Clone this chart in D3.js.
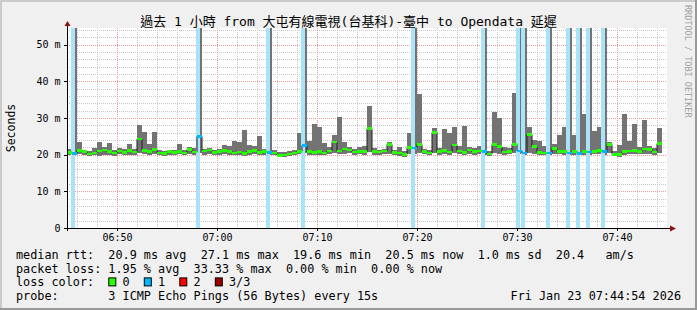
<!DOCTYPE html>
<html>
<head>
<meta charset="utf-8">
<script src="https://cdn.jsdelivr.net/npm/d3@7/dist/d3.min.js"></script>
<style>
  body { margin: 0; background: #f0f0f0; }
  svg text { font-family: "DejaVu Sans Mono", "Noto Sans CJK TC", monospace; white-space: pre; }
</style>
</head>
<body>
<svg id="chart" width="697" height="310"></svg>
<script>
// *************** DATA ***************
// one value per 30 s step, starting 06:45:00
const median = [
  20.6, 20.3, 21.2, 20.8, 20.2, 20.5, 21.0, 21.3, 20.8, 20.4,
  21.0, 20.6, 21.1, 20.7, 24.3, 21.2, 20.9, 21.4, 20.5, 20.3,
  20.8, 20.6, 20.9, 20.5, 21.4, 20.7, 25.0, 21.0, 21.3, 20.6,
  20.8, 21.2, 20.9, 20.4, 20.7, 20.3, 20.9, 21.2, 20.6, 20.8,
  20.6, 20.5, 19.8, 19.9, 20.2, 20.5, 20.9, 22.5, 20.8, 20.6,
  20.9, 20.5, 21.0, 23.5, 21.0, 21.5, 21.3, 20.7, 20.9, 20.8,
  27.1, 20.9, 20.7, 21.0, 22.8, 20.6, 20.4, 20.1, 21.9, 21.8,
  22.8, 20.9, 20.5, 26.0, 20.8, 21.1, 20.7, 22.6, 21.0, 20.6,
  21.3, 20.8, 21.0, 20.8, 20.2, 22.8, 22.2, 20.7, 20.9, 22.8,
  21.0, 20.4, 25.5, 22.2, 20.6, 20.5, 20.4, 21.7, 20.9, 20.8,
  20.4, 20.9, 20.3, 20.8, 20.7, 20.9, 21.1, 20.8, 22.8, 20.1,
  20.0, 20.8, 21.0, 21.2, 20.9, 21.5, 21.4, 20.7, 23.0
];

const smokeHi = [
  21.5, 60.0, 23.4, 21.4, 21.0, 21.8, 23.4, 22.0, 23.3, 21.2,
  21.9, 21.5, 22.9, 21.5, 28.1, 26.3, 23.0, 26.3, 21.3, 21.0,
  21.4, 21.3, 22.8, 21.2, 22.0, 21.8, 60.0, 21.6, 21.9, 21.2,
  21.5, 22.7, 22.5, 23.8, 23.5, 26.6, 22.6, 22.3, 25.0, 21.6,
  60.0, 21.2, 20.8, 20.6, 21.0, 21.2, 25.8, 60.0, 23.6, 28.5,
  27.6, 23.3, 22.0, 25.3, 30.4, 23.5, 22.2, 21.5, 22.0, 22.5,
  33.2, 21.8, 21.4, 21.6, 23.5, 21.3, 22.0, 20.9, 26.0, 60.0,
  36.5, 21.6, 21.3, 27.3, 21.7, 26.9, 25.8, 27.5, 22.3, 27.7,
  22.0, 21.9, 22.3, 60.0, 21.0, 31.7, 30.0, 22.0, 21.7, 36.8,
  60.0, 60.0, 27.5, 24.0, 23.7, 22.5, 60.0, 22.8, 25.3, 27.5,
  60.0, 25.3, 60.0, 31.0, 60.0, 26.4, 27.5, 60.0, 23.5, 20.9,
  22.6, 31.0, 23.8, 28.3, 22.0, 29.4, 22.5, 21.8, 27.4
];

const smokeLo = [
  19.8, 19.9, 20.2, 19.9, 19.6, 19.8, 19.7, 20.0, 19.9, 19.7,
  20.1, 19.8, 20.0, 19.9, 20.5, 20.2, 20.0, 20.3, 19.8, 19.7,
  20.0, 19.9, 20.1, 19.8, 20.3, 20.0, 20.5, 20.0, 20.3, 19.8,
  20.0, 20.2, 20.0, 19.8, 19.9, 19.7, 20.0, 20.2, 19.8, 20.0,
  20.0, 19.9, 19.4, 19.5, 19.7, 19.9, 20.1, 20.4, 20.0, 19.9,
  20.0, 19.9, 20.1, 20.4, 20.2, 20.3, 20.4, 20.0, 20.1, 19.9,
  20.6, 20.0, 19.9, 20.1, 20.3, 19.8, 19.6, 19.5, 20.2, 20.3,
  20.4, 20.1, 19.8, 20.5, 20.0, 20.2, 20.0, 20.4, 20.1, 19.9,
  20.2, 20.0, 20.1, 20.0, 19.6, 20.4, 20.3, 20.0, 20.1, 20.4,
  20.2, 19.9, 20.5, 20.3, 19.9, 19.8, 19.9, 20.2, 20.1, 20.0,
  19.9, 20.0, 19.8, 20.0, 20.0, 20.1, 20.2, 20.0, 20.4, 19.6,
  19.5, 20.0, 20.2, 20.3, 20.1, 20.3, 20.3, 20.0, 20.4
];

// lost pings (of 3) per step
const loss = [
  0, 1, 0, 0, 0, 0, 0, 0, 0, 0,
  0, 0, 0, 0, 0, 0, 0, 0, 0, 0,
  0, 0, 0, 0, 0, 0, 1, 0, 0, 0,
  0, 0, 0, 0, 0, 0, 0, 0, 0, 0,
  1, 0, 0, 0, 0, 0, 0, 1, 0, 0,
  0, 0, 0, 0, 0, 0, 0, 0, 0, 0,
  0, 0, 0, 0, 0, 0, 0, 0, 0, 1,
  0, 0, 0, 0, 0, 0, 0, 0, 0, 0,
  0, 0, 0, 1, 0, 0, 0, 0, 0, 0,
  1, 1, 0, 0, 0, 0, 1, 0, 0, 0,
  1, 0, 1, 0, 1, 0, 0, 1, 0, 0,
  0, 0, 0, 0, 0, 0, 0, 0, 0
];

const yTicks = [0, 10, 20, 30, 40, 50];
const lossLabels = ["0", "1", "2", "3/3"];
const lossColors = ["#26ff00", "#00b8ff", "#ff0000", "#a00000"];

const titleText = "過去 1 小時 from 大屯有線電視(台基科)-臺中 to Opendata 延遲";
const legendLines = [
  "median rtt:  20.9 ms avg  27.1 ms max  19.6 ms min  20.5 ms now  1.0 ms sd  20.4   am/s",
  "packet loss: 1.95 % avg  33.33 % max  0.00 % min  0.00 % now",
  "loss color:",
  "probe:       3 ICMP Echo Pings (56 Bytes) every 15s"
];
const stampText = "Fri Jan 23 07:44:54 2026";

// *************** CONSTANTS ***************
const width = 697,
      height = 310;

const plotLeft = 67,
      plotRight = 667,
      plotTop = 28,
      plotBottom = 228;

const stepMs = 30000,
      t0 = Date.UTC(2026, 0, 23, 6, 45),
      t1 = Date.UTC(2026, 0, 23, 7, 45);

const charW = 7.1,
      legendX = 16,
      legendFont = 11.8;

const svg = d3.select("#chart");

const x = d3.scaleUtc()
            .domain([new Date(t0), new Date(t1)])
            .range([plotLeft, plotRight]);

const y = d3.scaleLinear()
            .domain([0, 54.55])
            .range([plotBottom, plotTop]);

const stepTime = i => new Date(t0 + i * stepMs);
const px = v => Math.round(v) + 0.5;

// *************** FRAME ***************
svg.append("rect")
   .attr("width", width)
   .attr("height", height)
   .attr("fill", "#f0f0f0");

svg.append("path")
   .attr("d", `M0,0H${width}V2H2V${height}H0Z`)
   .attr("fill", "#cbcbcb");

svg.append("path")
   .attr("d", `M${width},${height}H0V${height - 2}H${width - 2}V0H${width}Z`)
   .attr("fill", "#999999");

svg.append("rect")
   .attr("x", plotLeft)
   .attr("y", plotTop)
   .attr("width", plotRight - plotLeft)
   .attr("height", plotBottom - plotTop)
   .attr("fill", "#ffffff");

// *************** GRID ***************
const grid = svg.append("g").attr("shape-rendering", "crispEdges");

const minorY = d3.range(2, 55, 2).filter(v => v % 10 !== 0),
      majorY = yTicks.filter(v => v > 0);

const minorX = x.ticks(d3.utcMinute.every(2)).filter(d => d.getUTCMinutes() % 10 !== 0),
      majorX = x.ticks(d3.utcMinute.every(10));

grid.selectAll(".hmin")
    .data(minorY)
    .join("line")
    .attr("x1", plotLeft).attr("x2", plotRight)
    .attr("y1", d => px(y(d))).attr("y2", d => px(y(d)))
    .attr("stroke", "#c8c8c8")
    .attr("stroke-dasharray", "1,1");

grid.selectAll(".vmin")
    .data(minorX)
    .join("line")
    .attr("x1", d => px(x(d))).attr("x2", d => px(x(d)))
    .attr("y1", plotTop).attr("y2", plotBottom)
    .attr("stroke", "#c8c8c8")
    .attr("stroke-dasharray", "1,1");

grid.selectAll(".hmaj")
    .data(majorY)
    .join("line")
    .attr("x1", plotLeft).attr("x2", plotRight)
    .attr("y1", d => px(y(d))).attr("y2", d => px(y(d)))
    .attr("stroke", "#f09a9a")
    .attr("stroke-dasharray", "1,1");

grid.selectAll(".vmaj")
    .data(majorX)
    .join("line")
    .attr("x1", d => px(x(d))).attr("x2", d => px(x(d)))
    .attr("y1", plotTop).attr("y2", plotBottom)
    .attr("stroke", "#f09a9a")
    .attr("stroke-dasharray", "1,1");

// *************** GRAPH ***************
svg.append("clipPath")
   .attr("id", "plotClip")
   .append("rect")
   .attr("x", plotLeft)
   .attr("y", plotTop)
   .attr("width", plotRight - plotLeft)
   .attr("height", plotBottom - plotTop);

const g = svg.append("g")
             .attr("clip-path", "url(#plotClip)")
             .attr("shape-rendering", "crispEdges");

const steps = median.map((m, i) => ({
  t: stepTime(i),
  t2: stepTime(i + 1),
  median: m,
  hi: smokeHi[i],
  lo: smokeLo[i],
  loss: loss[i]
}));

// smoke
g.selectAll(".smoke")
 .data(steps)
 .join("rect")
 .attr("x", d => x(d.t))
 .attr("width", d => x(d.t2) - x(d.t))
 .attr("y", d => y(d.hi))
 .attr("height", d => y(d.lo) - y(d.hi))
 .attr("fill", "#737373");

// loss background, over the left part of the step
g.selectAll(".lossbar")
 .data(steps.filter(d => d.loss > 0))
 .join("rect")
 .attr("x", d => x(d.t) - 1)
 .attr("width", 4)
 .attr("y", plotTop)
 .attr("height", plotBottom - plotTop)
 .attr("fill", "#a8e3fa");

// median line
const medianPts = steps.map(d => [x(d.t), y(d.median)]);
medianPts.push([x(steps[steps.length - 1].t2), y(steps[steps.length - 1].median)]);

g.append("path")
 .attr("d", d3.line().curve(d3.curveStepAfter)(medianPts))
 .attr("fill", "none")
 .attr("stroke", "#202020")
 .attr("stroke-width", 1)
 .attr("shape-rendering", "auto");

// median band, coloured by loss
g.selectAll(".band")
 .data(steps)
 .join("rect")
 .attr("x", d => x(d.t))
 .attr("width", d => x(d.t2) - x(d.t))
 .attr("y", d => y(d.median) - 1.25)
 .attr("height", 2.5)
 .attr("fill", d => lossColors[d.loss]);

// *************** AXES ***************
const xAxis = svg.append("g")
                 .attr("transform", `translate(0,${plotBottom})`)
                 .call(d3.axisBottom(x)
                         .tickValues(majorX)
                         .tickSize(3)
                         .tickPadding(3)
                         .tickFormat(d3.utcFormat("%H:%M")));

const yAxis = svg.append("g")
                 .attr("transform", `translate(${plotLeft},0)`)
                 .call(d3.axisLeft(y)
                         .tickValues(yTicks)
                         .tickSize(3)
                         .tickPadding(3.5)
                         .tickFormat(d => d === 0 ? "0" : `${d} m`));

[xAxis, yAxis].forEach(ax => {
  ax.select(".domain").remove();
  ax.attr("font-family", null).attr("font-size", null);
  ax.selectAll("line").attr("stroke", "#000").attr("shape-rendering", "crispEdges");
  ax.selectAll("text")
    .attr("font-size", "10px")
    .attr("fill", "#000");
});

svg.append("line")
   .attr("x1", plotLeft - 3).attr("x2", plotRight + 4)
   .attr("y1", px(plotBottom)).attr("y2", px(plotBottom))
   .attr("stroke", "#000")
   .attr("shape-rendering", "crispEdges");

svg.append("line")
   .attr("x1", px(plotLeft)).attr("x2", px(plotLeft))
   .attr("y1", plotBottom + 3).attr("y2", plotTop - 3)
   .attr("stroke", "#000")
   .attr("shape-rendering", "crispEdges");

svg.append("polygon")
   .attr("points", `${plotRight + 9},${plotBottom + 0.5} ${plotRight + 3},${plotBottom - 2.5} ${plotRight + 3},${plotBottom + 3.5}`)
   .attr("fill", "#8c1010");

svg.append("polygon")
   .attr("points", `${plotLeft + 0.5},${plotTop - 7} ${plotLeft - 2.5},${plotTop - 2} ${plotLeft + 3.5},${plotTop - 2}`)
   .attr("fill", "#8c1010");

// *************** TEXT ***************
svg.append("text")
   .attr("x", width / 2)
   .attr("y", 26)
   .attr("text-anchor", "middle")
   .attr("font-size", "13px")
   .attr("fill", "#000")
   .text(titleText);

svg.append("text")
   .attr("transform", `translate(15,${(plotTop + plotBottom) / 2}) rotate(-90)`)
   .attr("text-anchor", "middle")
   .attr("font-size", "11.5px")
   .attr("fill", "#000")
   .text("Seconds");

svg.append("text")
   .attr("transform", "translate(685,5) rotate(90)")
   .attr("font-size", "8.5px")
   .attr("fill", "#a0a0a0")
   .text("RRDTOOL / TOBI OETIKER");

const legendY = [259, 272.7, 286.4, 300];

svg.selectAll(".legend")
   .data(legendLines)
   .join("text")
   .attr("x", legendX)
   .attr("y", (d, i) => legendY[i])
   .attr("font-size", `${legendFont}px`)
   .attr("fill", "#000")
   .attr("xml:space", "preserve")
   .text(d => d);

const swatches = svg.append("g");

lossLabels.forEach((lab, i) => {
  const col = 13 + i * 5;
  swatches.append("rect")
          .attr("x", legendX + col * charW + 0.5)
          .attr("y", legendY[2] - 8.5)
          .attr("width", 7)
          .attr("height", 8)
          .attr("fill", lossColors[i])
          .attr("stroke", "#000")
          .attr("stroke-width", 1);
  swatches.append("text")
          .attr("x", legendX + (col + 2) * charW)
          .attr("y", legendY[2])
          .attr("font-size", `${legendFont}px`)
          .attr("fill", "#000")
          .text(lab);
});

svg.append("text")
   .attr("x", 681)
   .attr("y", legendY[3])
   .attr("text-anchor", "end")
   .attr("font-size", `${legendFont}px`)
   .attr("fill", "#000")
   .text(stampText);
</script>
</body>
</html>
